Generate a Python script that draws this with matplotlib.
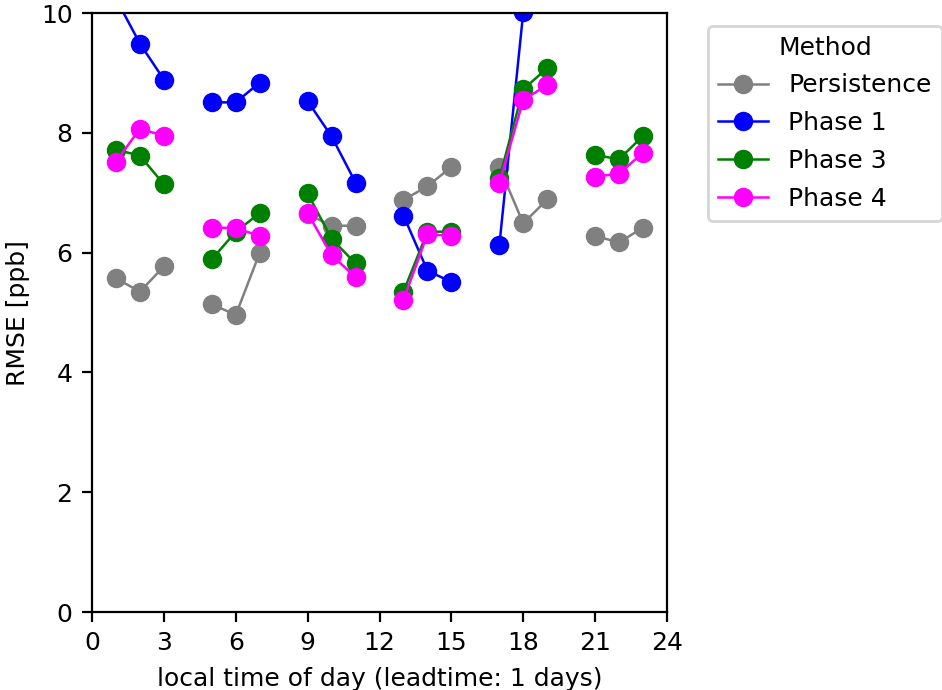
import numpy as np
from matplotlib import pyplot as plt

nan = np.nan
hours = list(range(24))

# RMSE per local hour (NaN separates the 3-hour blocks)
persistence = [nan, 5.57, 5.35, 5.77, nan, 5.14, 4.96, 6.00, nan, 6.64, 6.45, 6.45,
               nan, 6.88, 7.11, 7.43, nan, 7.43, 6.49, 6.89, nan, 6.28, 6.17, 6.42]
phase1 = [nan, 10.24, 9.49, 8.89, nan, 8.51, 8.51, 8.84, nan, 8.53, 7.94, 7.17,
          nan, 6.62, 5.70, 5.51, nan, 6.12, 10.02, 11.5, nan, 12.0, 12.2, 12.5]
phase3 = [nan, 7.72, 7.62, 7.14, nan, 5.89, 6.35, 6.66, nan, 6.99, 6.23, 5.82,
          nan, 5.35, 6.35, 6.35, nan, 7.24, 8.73, 9.08, nan, 7.63, 7.56, 7.95]
phase4 = [nan, 7.52, 8.07, 7.95, nan, 6.42, 6.41, 6.28, nan, 6.66, 5.96, 5.59,
          nan, 5.21, 6.31, 6.28, nan, 7.16, 8.55, 8.80, nan, 7.27, 7.32, 7.67]

series = [('Persistence', persistence, 'gray'),
          ('Phase 1', phase1, 'blue'),
          ('Phase 3', phase3, 'green'),
          ('Phase 4', phase4, 'magenta')]

plt.rcParams['font.size'] = 9

fig = plt.figure(figsize=(4.71, 3.45), dpi=200)
ax = fig.add_axes([0.0977, 0.113, 0.6104, 0.868])

for name, vals, col in series:
    ax.plot(hours, vals, marker='o', color=col, linewidth=0.9, label=name)

ax.set_xlim(0, 24)
ax.set_ylim(0, 10)
ax.set_xticks(range(0, 25, 3))
ax.set_yticks(range(0, 11, 2))
ax.set_xlabel('local time of day (leadtime: 1 days)')
ax.set_ylabel('RMSE [ppb]')
ax.legend(title='Method', loc='upper left', bbox_to_anchor=(1.05, 1),
          labelspacing=0.55)

fig.savefig('out.png', dpi=200)
